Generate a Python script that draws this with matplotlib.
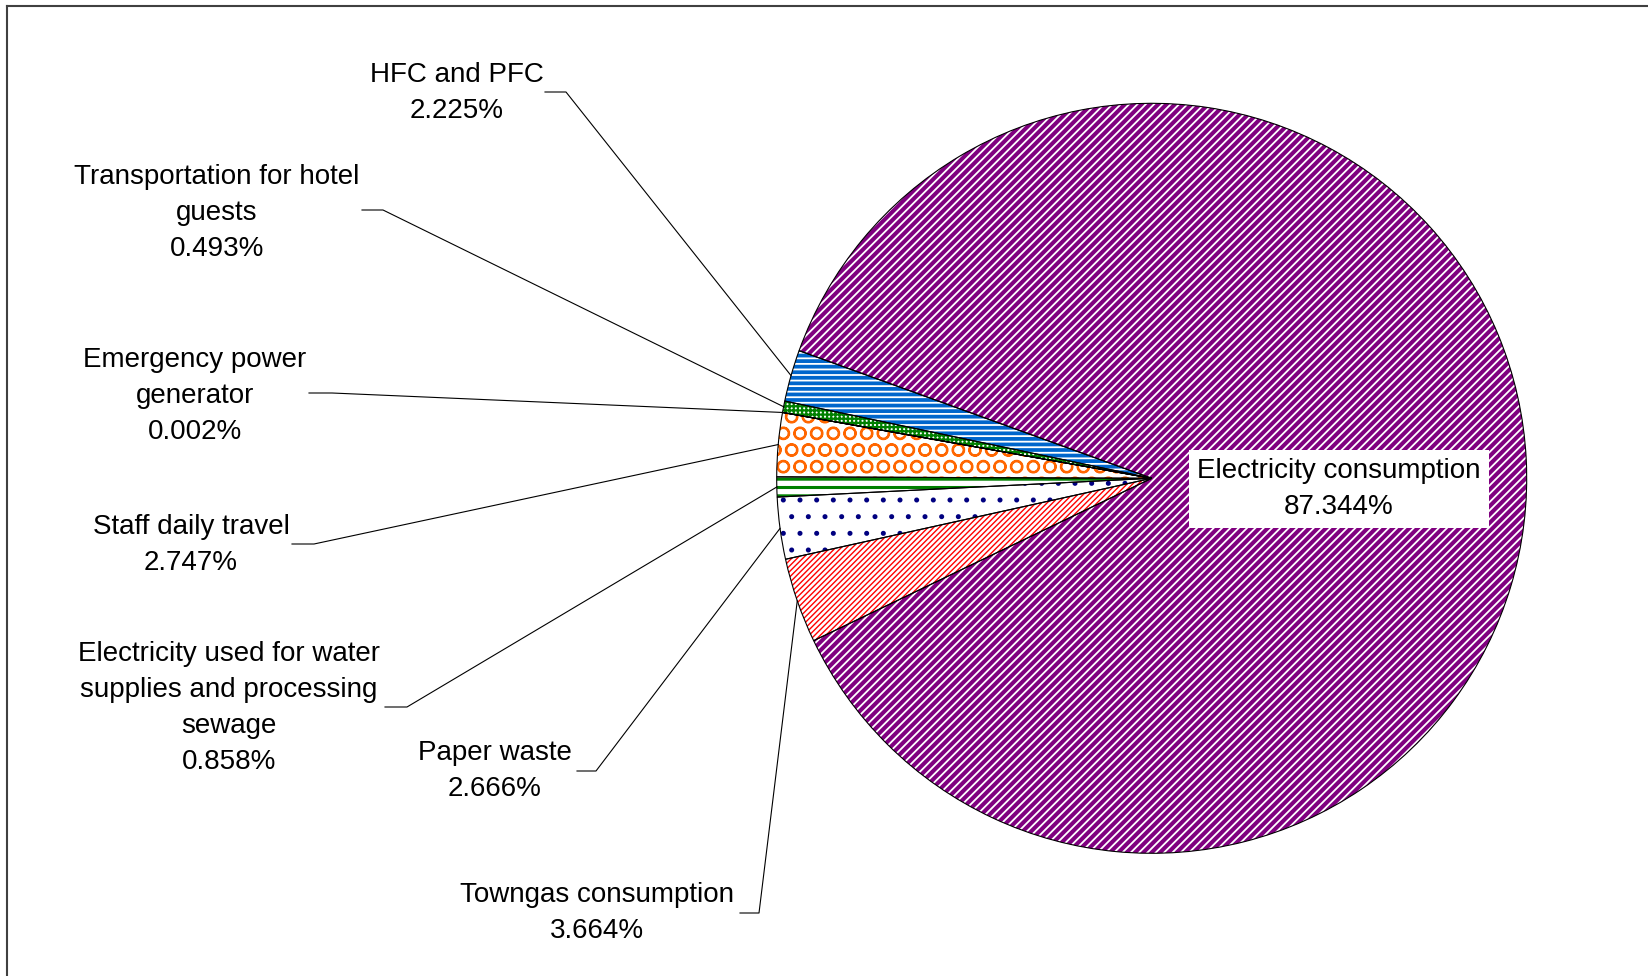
import matplotlib
matplotlib.use("Agg")
import matplotlib.pyplot as plt
import numpy as np

plt.rcParams['font.family'] = ['Liberation Sans', 'DejaVu Sans']

# data (percent of total emissions)
categories = ['HFC and PFC', 'Transportation for hotel\nguests', 'Emergency power\ngenerator',
              'Staff daily travel', 'Electricity used for water\nsupplies and processing\nsewage',
              'Paper waste', 'Towngas consumption', 'Electricity consumption']
shares = [2.225, 0.493, 0.002, 2.747, 0.858, 2.666, 3.664, 87.344]

# fill styles: face colour, hatch colour, hatch, hatch width
faces = ['#0066CC', 'white', 'white', 'white', 'white', 'white', 'white', '#800080']
hatch_colors = ['white', '#008000', 'white', '#FF6600', '#008000', '#000080', '#FF0000', 'white']
hatches = ['---', '++++', '', 'O', '--', '.', '//////', '////']
hatch_widths = [1.3, 1.6, 0.5, 1.5, 2.2, 1.2, 1.0, 1.3]

# label layout in figure pixels (top origin): text centre, elbow, end of horizontal tick
W, H = 1649, 976
CX, CY, R = 1151.7, 478.3, 375.0
text_pos = [(457, 93), (217, 213), (195, 396), (191, 545), (229, 708), (495, 771), (597, 913)]
elbows = [(566, 92), (383, 210), (332, 393), (314, 544), (407, 707), (596, 771), (759, 913)]
ends = [(545, 92), (362, 210), (309, 393), (292, 544), (385, 707), (577, 771), (740, 913)]


def to_data(p):
    return ((p[0] - CX) / R, (CY - p[1]) / R)


fig = plt.figure(figsize=(W / 100, H / 100), dpi=100)
ax = fig.add_axes([0, 0, 1, 1])

# hatched fills
wedges, _ = ax.pie(shares, startangle=160.1, counterclock=True, radius=1,
                   colors=faces, wedgeprops=dict(linewidth=0))
for w, hc, h, hw in zip(wedges, hatch_colors, hatches, hatch_widths):
    w.set_edgecolor(hc)
    w.set_linewidth(0)
    w.set_hatch(h)
    if hasattr(w, 'set_hatch_linewidth'):
        w.set_hatch_linewidth(hw)

# outlines on top
outline, _ = ax.pie(shares, startangle=160.1, counterclock=True, radius=1,
                    wedgeprops=dict(fill=False, edgecolor='black', linewidth=0.8))

ax.set_xlim(-CX / R, (W - CX) / R)
ax.set_ylim(-(H - CY) / R, CY / R)
ax.set_aspect('auto')
ax.axis('off')

for i in range(7):
    w = wedges[i]
    mid = np.deg2rad((w.theta1 + w.theta2) / 2)
    anchor = (np.cos(mid), np.sin(mid))
    e = to_data(elbows[i])
    t = to_data(ends[i])
    ax.plot([anchor[0], e[0], t[0]], [anchor[1], e[1], t[1]], color='black', lw=0.8, zorder=5)
    tx, ty = to_data(text_pos[i])
    ax.text(tx, ty, f"{categories[i]}\n{shares[i]:.3f}%", ha='center', va='center',
            fontsize=20, linespacing=1.5, zorder=6)

ex, ey = to_data((1339, 489))
ax.text(ex, ey, f"{categories[7]}\n{shares[7]:.3f}%", ha='center', va='center',
        fontsize=20, linespacing=1.5, zorder=6,
        bbox=dict(boxstyle='square,pad=0.3', fc='white', ec='none'))

# chart border (top and left edges visible)
fig.add_artist(plt.Line2D([7 / W, 1], [1 - 6 / H, 1 - 6 / H], color='#404040', lw=1.5))
fig.add_artist(plt.Line2D([7 / W, 7 / W], [0, 1 - 6 / H], color='#404040', lw=1.5))

fig.savefig('out.png', dpi=100)
